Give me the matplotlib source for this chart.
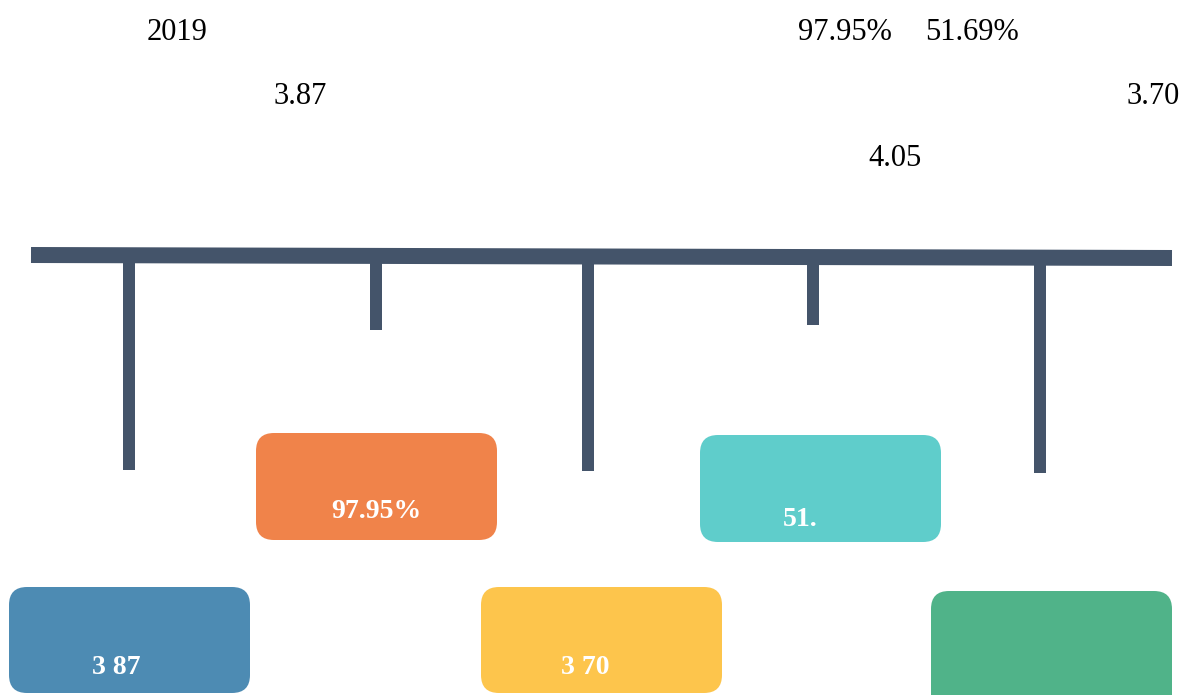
import matplotlib
matplotlib.use("Agg")
import matplotlib.pyplot as plt
from matplotlib.patches import FancyBboxPatch

# ---- data ----
year_label = "2019"
top_values = ["3.87", "97.95%", "3.70", "51.69%", "4.05"]
box_labels = ["3 87", "97.95%", "3 70", "51.", ""]
box_colors = ["#4D8BB3", "#F0834A", "#FDC54C", "#5FCDCB", "#50B389"]
line_color = "#44546A"

# ---- layout (pixel space) ----
W, H = 1187, 695
stem_x = [129, 376, 588, 813, 1040]
stem_bottom = [470, 330, 471, 325, 473]
box_left = [9, 256, 481, 700, 931]
box_top = [587, 433, 587, 435, 591]
box_w = 241
box_h = [106, 107, 106, 107, 130]
label_xy = [(116, 668), (376, 512), (585, 667), (800, 519), (1050, 670)]
top_text_xy = [(300, 96), (845, 33), (1153, 96), (972, 33), (895, 158)]
year_xy = (177, 33)
bar_x = (31, 1172)
bar_y = (255, 258)

fig = plt.figure(figsize=(W / 100, H / 100), dpi=100)
ax = fig.add_axes([0, 0, 1, 1])
ax.set_xlim(0, W)
ax.set_ylim(H, 0)
ax.axis("off")

serif = ["Liberation Serif", "DejaVu Serif"]

# main bar
ax.plot(bar_x, bar_y, color=line_color, lw=16 * 0.72, solid_capstyle="butt", zorder=3)

# stems
for i, x in enumerate(stem_x):
    ytop = bar_y[0] + (bar_y[1] - bar_y[0]) * (x - bar_x[0]) / (bar_x[1] - bar_x[0])
    ax.plot([x, x], [ytop, stem_bottom[i]], color=line_color, lw=12 * 0.72,
            solid_capstyle="butt", zorder=2)

# boxes
for i in range(len(box_labels)):
    r = 18
    patch = FancyBboxPatch((box_left[i] + r, box_top[i] + r), box_w - 2 * r, box_h[i] - 2 * r,
                           boxstyle=f"round,pad={r}", fc=box_colors[i], ec="none",
                           zorder=2, clip_on=True)
    ax.add_patch(patch)
    if box_labels[i]:
        ax.text(label_xy[i][0], label_xy[i][1], box_labels[i], color="white",
                fontsize=20, fontweight="bold", family=serif,
                ha="center", va="center", zorder=4)

# top texts
ax.text(year_xy[0], year_xy[1], year_label, fontsize=22, family=serif,
        ha="center", va="center", color="black")
for (x, y), v in zip(top_text_xy, top_values):
    ax.text(x, y, v, fontsize=22, family=serif, ha="center", va="center", color="black")

fig.savefig("out.png", dpi=100)
